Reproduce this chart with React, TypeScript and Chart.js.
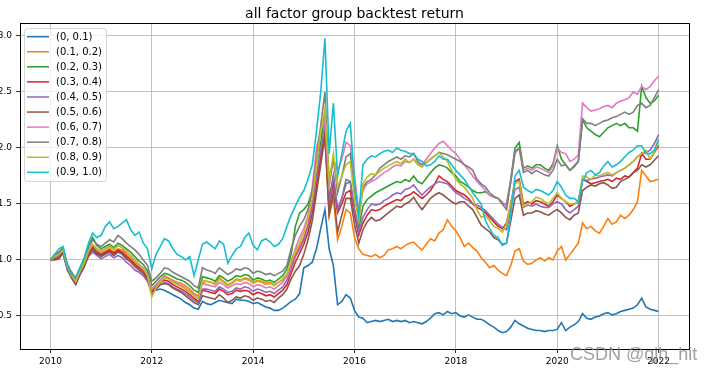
import React, { useEffect, useRef } from 'react';
import { Chart, registerables } from 'chart.js';

Chart.register(...registerables);

const chartTitle = 'all factor group backtest return';
const watermark = 'CSDN @qjh_hit';

// monthly dates, 2010-01 .. 2022-01
const firstYear = 2010;
const monthCount = 145;
const months = Array.from({ length: monthCount }, (_, i) => {
  const y = firstYear + Math.floor(i / 12);
  const m = (i % 12) + 1;
  return `${y}-${m < 10 ? '0' + m : m}`;
});

const seriesNames = [
  '(0, 0.1)', '(0.1, 0.2)', '(0.2, 0.3)', '(0.3, 0.4)', '(0.4, 0.5)',
  '(0.5, 0.6)', '(0.6, 0.7)', '(0.7, 0.8)', '(0.8, 0.9)', '(0.9, 1.0)',
];

const seriesColors = [
  '#1f77b4', '#ff7f0e', '#2ca02c', '#d62728', '#9467bd',
  '#8c564b', '#e377c2', '#7f7f7f', '#bcbd22', '#17becf',
];

const g00 = [
  1.00, 1.02, 1.04, 1.08, 0.93, 0.85, 0.80, 0.88, 0.95, 1.05, 1.10, 1.06,
  1.04, 1.06, 1.08, 1.05, 1.08, 1.06, 1.03, 1.00, 0.96, 0.93, 0.90, 0.84,
  0.72, 0.73, 0.74, 0.73, 0.71, 0.69, 0.67, 0.65, 0.62, 0.60, 0.57, 0.56,
  0.63, 0.61, 0.60, 0.62, 0.64, 0.63, 0.62, 0.61, 0.65, 0.64, 0.64, 0.63,
  0.61, 0.62, 0.60, 0.58, 0.57, 0.55, 0.55, 0.57, 0.60, 0.63, 0.65, 0.70,
  0.93, 0.95, 0.98, 1.10, 1.28, 1.45, 1.10, 0.95, 0.60, 0.63, 0.69, 0.66,
  0.55, 0.49, 0.48, 0.44, 0.45, 0.46, 0.45, 0.46, 0.47, 0.45, 0.46, 0.45,
  0.46, 0.44, 0.45, 0.44, 0.43, 0.45, 0.48, 0.52, 0.53, 0.51, 0.54, 0.52,
  0.53, 0.50, 0.49, 0.51, 0.49, 0.47, 0.47, 0.45, 0.42, 0.40, 0.37, 0.35,
  0.36, 0.40, 0.46, 0.43, 0.41, 0.39, 0.38, 0.37, 0.37, 0.36, 0.37, 0.37,
  0.38, 0.44, 0.37, 0.40, 0.42, 0.45, 0.52, 0.48, 0.47, 0.49, 0.50, 0.52,
  0.53, 0.51, 0.52, 0.54, 0.55, 0.56, 0.57, 0.60, 0.66, 0.58, 0.56, 0.55,
  0.54,
];
const g01 = [
  1.00, 1.02, 1.03, 1.08, 0.92, 0.85, 0.80, 0.88, 0.96, 1.06, 1.12, 1.08,
  1.06, 1.08, 1.10, 1.07, 1.10, 1.09, 1.05, 1.02, 0.98, 0.95, 0.92, 0.86,
  0.74, 0.78, 0.82, 0.86, 0.84, 0.82, 0.80, 0.79, 0.77, 0.74, 0.70, 0.68,
  0.80, 0.81, 0.80, 0.79, 0.84, 0.81, 0.78, 0.80, 0.83, 0.82, 0.84, 0.83,
  0.80, 0.82, 0.81, 0.79, 0.80, 0.78, 0.80, 0.82, 0.86, 0.95, 1.05, 1.12,
  1.20, 1.32, 1.50, 1.72, 1.95, 2.10, 1.40, 1.55, 1.18, 1.30, 1.45, 1.42,
  1.20, 1.10, 1.05, 1.04, 1.03, 1.05, 1.02, 1.04, 1.09, 1.10, 1.12, 1.10,
  1.13, 1.15, 1.16, 1.12, 1.09, 1.14, 1.19, 1.17, 1.24, 1.27, 1.36, 1.30,
  1.26, 1.20, 1.12, 1.15, 1.11, 1.08, 1.02, 0.98, 0.93, 0.95, 0.91, 0.88,
  0.86, 0.95, 1.08, 1.10, 0.99, 0.96, 0.97, 1.00, 1.02, 0.99, 1.02, 1.00,
  1.08, 1.12, 1.00, 1.05, 1.10, 1.15, 1.33, 1.28, 1.30, 1.26, 1.24, 1.30,
  1.37, 1.32, 1.34, 1.40, 1.37, 1.40, 1.45, 1.52, 1.80, 1.75, 1.70, 1.71,
  1.72,
];
const g02 = [
  1.00, 1.05, 1.07, 1.11, 0.96, 0.88, 0.83, 0.92, 1.00, 1.12, 1.20, 1.13,
  1.10, 1.12, 1.14, 1.11, 1.15, 1.13, 1.10, 1.07, 1.03, 0.99, 0.96, 0.90,
  0.77, 0.81, 0.85, 0.88, 0.87, 0.85, 0.83, 0.82, 0.80, 0.77, 0.73, 0.71,
  0.85, 0.84, 0.83, 0.81, 0.86, 0.84, 0.81, 0.83, 0.86, 0.85, 0.87, 0.86,
  0.82, 0.84, 0.83, 0.81, 0.82, 0.80, 0.83, 0.86, 0.92, 1.05, 1.30, 1.42,
  1.45, 1.50, 1.62, 1.85, 2.05, 2.30, 1.55, 1.75, 1.45, 1.55, 1.68, 1.70,
  1.45, 1.28, 1.48, 1.54, 1.57, 1.60, 1.62, 1.64, 1.66, 1.68, 1.70, 1.69,
  1.72, 1.70, 1.75, 1.70, 1.68, 1.73, 1.78, 1.82, 1.85, 1.84, 1.82, 1.78,
  1.75, 1.70, 1.68, 1.65, 1.62, 1.60, 1.60, 1.61, 1.58, 1.56, 1.55, 1.50,
  1.50, 1.72, 2.00, 2.05, 1.82, 1.84, 1.82, 1.85, 1.85, 1.82, 1.80, 1.86,
  2.02, 1.90, 1.85, 1.80, 1.83, 1.88, 2.25, 2.18, 2.15, 2.12, 2.10, 2.14,
  2.18, 2.20, 2.22, 2.20, 2.22, 2.18, 2.18, 2.15, 2.55, 2.45, 2.40, 2.42,
  2.47,
];
const g03 = [
  1.00, 1.00, 1.01, 1.06, 0.93, 0.85, 0.80, 0.88, 0.96, 1.06, 1.12, 1.07,
  1.05, 1.07, 1.09, 1.06, 1.09, 1.07, 1.03, 1.00, 0.96, 0.93, 0.90, 0.84,
  0.72, 0.76, 0.80, 0.82, 0.81, 0.78, 0.76, 0.74, 0.72, 0.69, 0.66, 0.63,
  0.73, 0.72, 0.71, 0.70, 0.74, 0.72, 0.69, 0.70, 0.73, 0.72, 0.73, 0.72,
  0.69, 0.71, 0.70, 0.68, 0.69, 0.67, 0.70, 0.73, 0.78, 0.88, 0.98, 1.06,
  1.14, 1.25, 1.42, 1.65, 1.90, 2.15, 1.45, 1.70, 1.42, 1.50, 1.60, 1.62,
  1.40, 1.22, 1.33, 1.40, 1.45, 1.44, 1.45, 1.48, 1.50, 1.52, 1.54, 1.53,
  1.57, 1.58, 1.61, 1.58, 1.55, 1.58, 1.62, 1.68, 1.75, 1.72, 1.70, 1.66,
  1.62, 1.60, 1.58, 1.55, 1.50, 1.47, 1.45, 1.42, 1.38, 1.34, 1.30, 1.28,
  1.33, 1.50, 1.70, 1.72, 1.50, 1.52, 1.50, 1.53, 1.52, 1.50, 1.48, 1.52,
  1.58, 1.55, 1.52, 1.48, 1.50, 1.52, 1.72, 1.70, 1.68, 1.69, 1.70, 1.71,
  1.72, 1.70, 1.73, 1.72, 1.75, 1.74, 1.78, 1.82, 1.95, 1.90, 1.90, 1.96,
  2.02,
];
const g04 = [
  1.00, 1.02, 1.04, 1.06, 0.91, 0.84, 0.78, 0.87, 0.94, 1.03, 1.07, 1.04,
  1.01, 1.03, 1.05, 1.02, 1.04, 1.02, 0.98, 0.95, 0.91, 0.89, 0.86, 0.81,
  0.70, 0.74, 0.78, 0.80, 0.79, 0.76, 0.74, 0.72, 0.70, 0.67, 0.64, 0.62,
  0.74, 0.74, 0.73, 0.72, 0.76, 0.74, 0.71, 0.72, 0.75, 0.74, 0.76, 0.75,
  0.72, 0.74, 0.73, 0.71, 0.72, 0.70, 0.73, 0.76, 0.82, 0.92, 1.03, 1.10,
  1.18, 1.30, 1.48, 1.75, 1.98, 2.20, 1.50, 1.75, 1.45, 1.55, 1.72, 1.70,
  1.45, 1.25, 1.38, 1.45, 1.50, 1.49, 1.50, 1.53, 1.55, 1.58, 1.60, 1.59,
  1.63, 1.64, 1.67, 1.62, 1.58, 1.62, 1.65, 1.68, 1.70, 1.69, 1.68, 1.64,
  1.60, 1.58, 1.55, 1.53, 1.50, 1.49, 1.47, 1.44, 1.40, 1.36, 1.32, 1.29,
  1.27, 1.45, 1.63, 1.65, 1.47, 1.49, 1.48, 1.50, 1.48, 1.47, 1.47, 1.50,
  1.52, 1.50, 1.45, 1.42, 1.45, 1.48, 1.72, 1.71, 1.72, 1.73, 1.74, 1.75,
  1.76, 1.75, 1.78, 1.80, 1.82, 1.85, 1.88, 1.92, 1.95, 1.96, 1.98, 2.04,
  2.12,
];
const g05 = [
  1.00, 1.01, 1.02, 1.07, 0.92, 0.84, 0.78, 0.87, 0.94, 1.04, 1.09, 1.05,
  1.03, 1.05, 1.07, 1.04, 1.07, 1.05, 1.01, 0.98, 0.94, 0.91, 0.88, 0.82,
  0.71, 0.74, 0.78, 0.79, 0.78, 0.75, 0.73, 0.71, 0.68, 0.65, 0.62, 0.60,
  0.68, 0.67, 0.66, 0.65, 0.69, 0.66, 0.62, 0.64, 0.67, 0.66, 0.68, 0.67,
  0.64, 0.66, 0.65, 0.63, 0.64, 0.62, 0.66, 0.69, 0.74, 0.83, 0.90, 0.95,
  1.05, 1.18, 1.35, 1.60, 1.85, 2.10, 1.40, 1.60, 1.25, 1.40, 1.55, 1.55,
  1.32, 1.15, 1.27, 1.34, 1.38, 1.35, 1.36, 1.39, 1.42, 1.45, 1.48, 1.47,
  1.50, 1.52, 1.56, 1.50, 1.45, 1.50, 1.55, 1.58, 1.60, 1.58, 1.55, 1.52,
  1.50, 1.52, 1.52, 1.48, 1.45, 1.38, 1.31, 1.28, 1.25, 1.20, 1.18, 1.14,
  1.15, 1.35, 1.55, 1.58, 1.40, 1.42, 1.42, 1.44, 1.43, 1.41, 1.40, 1.43,
  1.45, 1.42, 1.38, 1.36, 1.40, 1.42, 1.62, 1.65, 1.67, 1.66, 1.68, 1.69,
  1.67, 1.64, 1.65, 1.70, 1.72, 1.74, 1.78, 1.80, 1.85, 1.83, 1.85, 1.89,
  1.93,
];
const g06 = [
  1.00, 1.03, 1.05, 1.09, 0.94, 0.87, 0.81, 0.90, 0.98, 1.08, 1.14, 1.10,
  1.08, 1.10, 1.12, 1.10, 1.13, 1.11, 1.07, 1.04, 1.00, 0.96, 0.93, 0.87,
  0.74, 0.78, 0.82, 0.85, 0.84, 0.81, 0.79, 0.77, 0.75, 0.72, 0.69, 0.67,
  0.79, 0.78, 0.77, 0.76, 0.80, 0.78, 0.75, 0.77, 0.79, 0.78, 0.80, 0.79,
  0.76, 0.78, 0.77, 0.75, 0.76, 0.74, 0.77, 0.80, 0.86, 0.98, 1.10, 1.20,
  1.28, 1.40, 1.65, 2.00, 2.15, 2.25, 1.65, 1.90, 1.80, 1.90, 2.05, 2.02,
  1.75, 1.45, 1.62, 1.68, 1.70, 1.72, 1.75, 1.78, 1.80, 1.83, 1.85, 1.84,
  1.88, 1.87, 1.90, 1.86, 1.85, 1.90, 1.95, 2.00, 2.04, 2.06, 2.02, 1.98,
  1.95, 1.90, 1.85, 1.80, 1.75, 1.70, 1.66, 1.62, 1.58, 1.56, 1.55, 1.52,
  1.48, 1.70, 1.95, 2.00, 1.80, 1.82, 1.80, 1.83, 1.82, 1.80, 1.78, 1.84,
  2.00, 1.96, 1.95, 1.88, 1.90, 1.94, 2.40, 2.36, 2.33, 2.34, 2.35, 2.37,
  2.38, 2.36, 2.40, 2.42, 2.43, 2.45, 2.50, 2.48, 2.55, 2.52, 2.55, 2.60,
  2.64,
];
const g07 = [
  1.00, 1.04, 1.06, 1.10, 0.96, 0.89, 0.84, 0.93, 1.00, 1.11, 1.18, 1.14,
  1.12, 1.15, 1.18, 1.16, 1.22, 1.19, 1.15, 1.12, 1.09, 1.05, 1.00, 0.95,
  0.81, 0.84, 0.88, 0.93, 0.92, 0.89, 0.87, 0.85, 0.83, 0.81, 0.77, 0.75,
  0.93, 0.91, 0.90, 0.88, 0.93, 0.90, 0.87, 0.89, 0.92, 0.91, 0.93, 0.92,
  0.88, 0.90, 0.89, 0.87, 0.88, 0.86, 0.88, 0.90, 0.95, 1.10, 1.22, 1.30,
  1.36, 1.45, 1.62, 1.90, 2.20, 2.50, 1.70, 1.90, 1.60, 1.75, 1.92, 1.95,
  1.60, 1.35, 1.65, 1.70, 1.72, 1.76, 1.82, 1.85, 1.88, 1.90, 1.92, 1.90,
  1.93, 1.92, 1.95, 1.88, 1.85, 1.87, 1.90, 1.93, 1.96, 1.95, 1.94, 1.92,
  1.90, 1.88, 1.85, 1.83, 1.80, 1.72, 1.68, 1.65, 1.60, 1.57, 1.55, 1.50,
  1.45, 1.70, 1.97, 2.00, 1.78, 1.80, 1.77, 1.80, 1.78, 1.76, 1.75, 1.80,
  1.90, 1.84, 1.85, 1.80, 1.84, 1.88, 2.26, 2.22, 2.22, 2.20, 2.22, 2.24,
  2.25, 2.27, 2.28, 2.30, 2.32, 2.30, 2.32, 2.38, 2.40, 2.36, 2.38, 2.45,
  2.52,
];
const g08 = [
  1.00, 1.03, 1.05, 1.09, 0.94, 0.86, 0.81, 0.90, 0.97, 1.08, 1.14, 1.09,
  1.07, 1.10, 1.12, 1.09, 1.13, 1.11, 1.08, 1.04, 1.00, 0.96, 0.92, 0.86,
  0.67, 0.75, 0.80, 0.84, 0.83, 0.80, 0.78, 0.76, 0.74, 0.71, 0.68, 0.65,
  0.82, 0.81, 0.80, 0.78, 0.83, 0.80, 0.77, 0.79, 0.82, 0.81, 0.83, 0.82,
  0.79, 0.81, 0.80, 0.78, 0.79, 0.77, 0.80, 0.83, 0.88, 1.00, 1.08, 1.15,
  1.24, 1.38, 1.55, 1.85, 2.15, 2.35, 1.70, 1.95, 1.65, 1.75, 1.85, 1.88,
  1.55, 1.35, 1.68, 1.74, 1.77, 1.76, 1.79, 1.82, 1.84, 1.86, 1.88, 1.86,
  1.90, 1.87, 1.90, 1.85, 1.83, 1.87, 1.90, 1.93, 1.96, 1.92, 1.88, 1.80,
  1.72, 1.68, 1.65, 1.60, 1.55, 1.45, 1.38, 1.40, 1.35, 1.30, 1.28, 1.25,
  1.32, 1.50, 1.68, 1.70, 1.48, 1.50, 1.52, 1.56, 1.55, 1.52, 1.50, 1.55,
  1.60, 1.55, 1.52, 1.50, 1.50, 1.52, 1.75, 1.74, 1.72, 1.76, 1.75, 1.77,
  1.78, 1.76, 1.78, 1.80, 1.82, 1.85, 1.88, 1.92, 1.95, 1.98, 1.90, 1.96,
  2.05,
];
const g09 = [
  1.00, 1.05, 1.10, 1.12, 0.95, 0.87, 0.85, 0.93, 1.02, 1.15, 1.24, 1.20,
  1.22, 1.30, 1.34, 1.28, 1.30, 1.33, 1.36, 1.27, 1.22, 1.25, 1.15, 1.10,
  0.92, 1.05, 1.12, 1.19, 1.17, 1.10, 1.05, 1.03, 1.00, 1.03, 0.86, 1.00,
  1.14, 1.16, 1.13, 1.10, 1.17, 1.14, 0.97, 1.04, 1.10, 1.12, 1.20, 1.24,
  1.13, 1.09, 1.17, 1.19, 1.16, 1.12, 1.14, 1.19, 1.30, 1.40, 1.48, 1.56,
  1.62, 1.72, 1.85, 2.15, 2.50, 2.98, 1.95, 2.40, 1.75, 1.95, 2.15, 2.22,
  1.70, 1.40, 1.85, 1.90, 1.93, 1.92, 1.95, 1.97, 1.98, 1.96, 2.00, 1.98,
  1.97, 1.95, 1.95, 1.90, 1.88, 1.84, 1.85, 1.88, 1.93, 1.90, 1.90, 1.85,
  1.80, 1.76, 1.72, 1.66, 1.60, 1.55, 1.50, 1.35, 1.28, 1.22, 1.20, 1.13,
  1.15, 1.40, 1.75, 1.80, 1.65, 1.62, 1.60, 1.63, 1.62, 1.60, 1.58, 1.62,
  1.70, 1.65, 1.58, 1.55, 1.55, 1.52, 1.70, 1.78, 1.80, 1.76, 1.78, 1.84,
  1.88, 1.83, 1.85, 1.88, 1.92, 1.96, 1.98, 2.02, 2.02, 1.95, 1.95, 1.98,
  2.08,
];

const seriesValues = [g00, g01, g02, g03, g04, g05, g06, g07, g08, g09];

const xTicks = [2010, 2012, 2014, 2016, 2018, 2020, 2022];
const yTicks = [0.5, 1.0, 1.5, 2.0, 2.5, 3.0];
const xRange = [2009.4, 2022.6];
const yRange = [0.205, 3.116];

const toYear = (m: string) => {
  const [y, mo] = m.split('-').map(Number);
  return y + (mo - 1) / 12;
};

const FONT = '"DejaVu Sans", sans-serif';

const decorPlugin = {
  id: 'mplDecor',
  afterDraw(chart: any) {
    const { ctx, chartArea: a } = chart;
    ctx.save();
    ctx.strokeStyle = '#000';
    ctx.lineWidth = 1;
    ctx.strokeRect(Math.round(a.left) + 0.5, Math.round(a.top) + 0.5,
      Math.round(a.right - a.left), Math.round(a.bottom - a.top));
    ctx.fillStyle = '#000';
    ctx.font = '14px ' + FONT;
    ctx.textAlign = 'center';
    ctx.textBaseline = 'alphabetic';
    ctx.fillText(chartTitle, (a.left + a.right) / 2, 17.5);
    const lx = 24.5, ly = 28.5, lw = 82, lh = 153;
    ctx.beginPath();
    (ctx as any).roundRect(lx, ly, lw, lh, 3);
    ctx.fillStyle = 'rgba(255,255,255,0.8)';
    ctx.fill();
    ctx.strokeStyle = 'rgba(204,204,204,0.8)';
    ctx.lineWidth = 1;
    ctx.stroke();
    ctx.font = '10px ' + FONT;
    ctx.textAlign = 'left';
    ctx.textBaseline = 'middle';
    chart.data.datasets.forEach((ds: any, i: number) => {
      const ry = 36.7 + i * 15.07;
      ctx.strokeStyle = ds.borderColor;
      ctx.lineWidth = 1.5;
      ctx.beginPath();
      ctx.moveTo(27, ry);
      ctx.lineTo(49, ry);
      ctx.stroke();
      ctx.fillStyle = '#000';
      ctx.fillText(ds.label, 56, ry + 0.5);
    });
    ctx.font = '18px "Liberation Sans", Arial, sans-serif';
    ctx.textAlign = 'left';
    ctx.textBaseline = 'alphabetic';
    ctx.fillStyle = 'rgba(130,130,130,0.75)';
    ctx.fillText(watermark, 570, 360);
    ctx.restore();
  },
};

export default function App() {
  const canvasRef = useRef<HTMLCanvasElement | null>(null);

  useEffect(() => {
    const canvas = canvasRef.current;
    if (!canvas) return;
    const xs = months.map(toYear);
    const datasets = seriesValues.map((vals, i) => ({
      label: seriesNames[i],
      data: vals.map((v, j) => ({ x: xs[j], y: v })),
      borderColor: seriesColors[i],
      backgroundColor: seriesColors[i],
      borderWidth: 1.6,
      pointRadius: 0,
      tension: 0,
      fill: false,
      order: seriesValues.length - 1 - i,
    }));
    const tickFont = { family: FONT, size: 9 };
    const chart = new Chart(canvas, {
      type: 'line',
      data: { datasets },
      options: {
        responsive: false,
        animation: false,
        devicePixelRatio: 1,
        layout: { padding: { left: 0, right: 26, top: 23, bottom: 0 } },
        plugins: {
          legend: { display: false },
          title: { display: false },
          tooltip: { enabled: false },
        },
        scales: {
          x: {
            type: 'linear',
            min: xRange[0],
            max: xRange[1],
            afterBuildTicks: (ax: any) => { ax.ticks = xTicks.map((v) => ({ value: v })); },
            afterFit: (ax: any) => { ax.height = 24; },
            ticks: {
              font: tickFont,
              color: '#000',
              padding: 3,
              maxRotation: 0,
              autoSkip: false,
              callback: (v: any) => String(v),
            },
            grid: { color: '#b0b0b0', lineWidth: 0.8, tickLength: 4, tickColor: '#000', tickWidth: 0.8 },
            border: { display: false },
          },
          y: {
            type: 'linear',
            min: yRange[0],
            max: yRange[1],
            afterBuildTicks: (ax: any) => { ax.ticks = yTicks.map((v) => ({ value: v })); },
            afterFit: (ax: any) => { ax.width = 20; },
            ticks: {
              font: tickFont,
              color: '#000',
              padding: 4,
              autoSkip: false,
              callback: (v: any) => Number(v).toFixed(1),
            },
            grid: { color: '#b0b0b0', lineWidth: 0.8, tickLength: 4, tickColor: '#000', tickWidth: 0.8 },
            border: { display: false },
          },
        },
      } as any,
      plugins: [decorPlugin],
    });
    return () => chart.destroy();
  }, []);

  return (
    <div style={{ position: 'fixed', left: 0, top: 0, width: 715, height: 373, background: '#fff', overflow: 'hidden' }}>
      <canvas ref={canvasRef} width={715} height={373} style={{ display: 'block' }} />
    </div>
  );
}
